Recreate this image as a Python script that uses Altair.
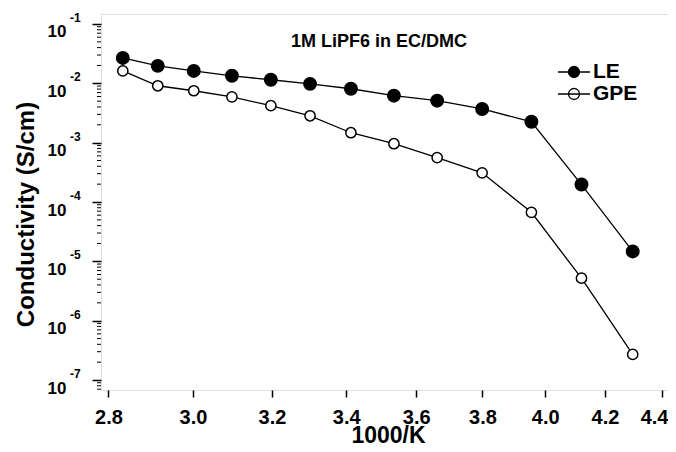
import altair as alt
import pandas as pd

# ---- data ----
inv_T = [2.833, 2.915, 3.002, 3.097, 3.197, 3.301, 3.413, 3.535, 3.662, 3.799, 3.955, 4.120, 4.296]
le = [2.68e-2, 1.97e-2, 1.62e-2, 1.34e-2, 1.15e-2, 9.8e-3, 8.1e-3, 6.2e-3, 5.1e-3, 3.7e-3, 2.25e-3, 1.97e-4, 1.47e-5]
gpe = [1.62e-2, 9.1e-3, 7.5e-3, 5.9e-3, 4.2e-3, 2.84e-3, 1.47e-3, 9.6e-4, 5.6e-4, 3.1e-4, 6.7e-5, 5.2e-6, 2.7e-7]
series = ["LE", "GPE"]
x_ticks = [2.8, 3.0, 3.2, 3.4, 3.6, 3.8, 4.0, 4.2, 4.4]
y_decades = [1e-7, 1e-6, 1e-5, 1e-4, 1e-3, 1e-2, 1e-1]
y_exponents = ["-7", "-6", "-5", "-4", "-3", "-2", "-1"]
minor_mult = [2, 3, 4, 5, 6, 7, 8, 9]
title_text = "1M LiPF6 in EC/DMC"
x_title = "1000/K"
y_title = "Conductivity (S/cm)"

x_domain = [2.783, 4.4216]
y_domain = [6.79e-8, 0.1474]

FONT = "Liberation Sans"

rows = []
for name, vals in zip(series, [le, gpe]):
    for x, v in zip(inv_T, vals):
        rows.append({"x": x, "y": v, "series": name})
df = pd.DataFrame(rows)

exp_df = pd.DataFrame({"v": y_decades, "e": y_exponents})
minor_vals = [m * d for d in [1e-8] + y_decades for m in minor_mult]
minor_df = pd.DataFrame({"v": [v for v in minor_vals if y_domain[0] <= v <= y_domain[1]]})

xs = alt.Scale(type="log", domain=x_domain, nice=False, zero=False)
ys = alt.Scale(type="log", domain=y_domain, nice=False, zero=False)

x_axis = alt.Axis(
    values=x_ticks, format=".1f", title=x_title,
    labelFont=FONT, labelFontSize=20, labelFontWeight="bold", labelColor="black",
    labelBaseline="top", labelPadding=10, tickSize=7, tickWidth=1.5, tickColor="black",
    titleFont=FONT, titleFontSize=23, titleFontWeight="bold", titleColor="black",
    titleX=287, titleY=52, titleAlign="center", titleBaseline="alphabetic",
    domain=False, grid=False, labelFlush=7, labelFlushOffset=6, labelOverlap=False,
)
y_axis = alt.Axis(
    values=y_decades, labelExpr="'10'", title=y_title,
    labelFont=FONT, labelFontSize=17, labelFontWeight="bold", labelColor="black",
    labelAlign="right", labelBaseline="top", labelPadding=26, tickSize=9, tickWidth=1.5,
    tickColor="black",
    titleFont=FONT, titleFontSize=24, titleFontWeight="bold", titleColor="black",
    titleAngle=270, titleX=-68, titleY=200, titleAlign="center", titleBaseline="alphabetic",
    domain=False, grid=False, labelFlush=False, labelOverlap=False,
)

X = alt.X("x:Q", scale=xs, axis=x_axis, title=x_title)
Y = alt.Y("y:Q", scale=ys, axis=y_axis, title=y_title)

base = alt.Chart(df)

lines = base.mark_line(color="black", strokeWidth=1.3).encode(
    x=X, y=Y, detail="series:N",
)

# legend symbol: a short line with a circle in the middle (symbol size 400 -> 10 px per unit)
LEG_PATH = "M-1.6,0H1.6M-0.55,0A0.55,0.55,0,1,1,0.55,0A0.55,0.55,0,1,1,-0.55,0Z"

fill_enc = alt.Fill(
    "series:N",
    scale=alt.Scale(domain=series, range=["black", "white"]),
    legend=alt.Legend(
        title=None, orient="none", legendX=462, legendY=47, padding=0,
        symbolType=LEG_PATH, symbolSize=400, symbolStrokeColor="black",
        symbolStrokeWidth=1.3, symbolOpacity=1,
        labelFont=FONT, labelFontSize=21, labelFontWeight="bold", labelColor="black",
        labelOffset=8, rowPadding=1,
    ),
)

pts_le = base.transform_filter(alt.datum.series == "LE").mark_point(
    shape="circle", filled=True, opacity=1, stroke="black", strokeWidth=1.5, size=155
).encode(x=X, y=Y, fill=fill_enc)

pts_gpe = base.transform_filter(alt.datum.series == "GPE").mark_point(
    shape="circle", filled=True, opacity=1, stroke="black", strokeWidth=1.5, size=105
).encode(x=X, y=Y, fill=fill_enc)

Yv = alt.Y("v:Q", scale=ys, axis=y_axis, title=y_title)

minor = alt.Chart(minor_df).mark_rule(color="black", strokeWidth=1).encode(
    y=Yv,
    x=alt.value(-4),
    x2=alt.value(0),
)

exps = alt.Chart(exp_df).mark_text(
    font=FONT, fontSize=12, fontWeight="bold", color="black", align="left", baseline="alphabetic", dy=-2
).encode(
    y=Yv,
    x=alt.value(-31),
    text="e:N",
)

title = alt.Chart(pd.DataFrame({"t": [title_text]})).mark_text(
    font=FONT, fontSize=18, fontWeight="bold", color="black", align="center", baseline="alphabetic"
).encode(
    x=alt.value(278),
    y=alt.value(33),
    text="t:N",
)

chart = alt.layer(lines, pts_le, pts_gpe, minor, exps, title).properties(
    width=567,
    height=376,
    autosize=alt.AutoSizeParams(type="none"),
    padding={"left": 93, "top": 6, "right": 0, "bottom": 54},
).configure_view(
    stroke="black", strokeWidth=1.5
).configure(background="white")

chart.save("out.html", embed_options={"renderer": "svg", "actions": False})
